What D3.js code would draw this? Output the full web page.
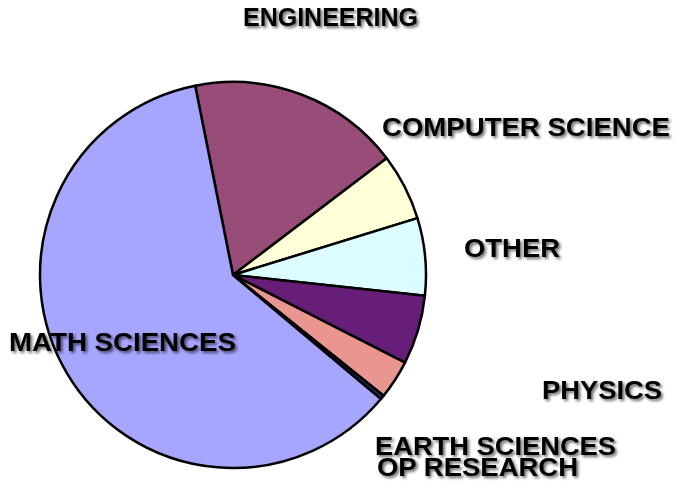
<!DOCTYPE html>
<html>
<head>
<meta charset="utf-8">
<script src="https://cdn.jsdelivr.net/npm/d3@7"></script>
<style>
html,body{margin:0;padding:0;background:#fff;}
svg{display:block;}
</style>
</head>
<body>
<svg id="chart" width="677" height="482"></svg>
<script>
const categories = ["ENGINEERING","COMPUTER SCIENCE","OTHER","PHYSICS","EARTH SCIENCES","OP RESEARCH","MATH SCIENCES"];
const values = [17.8, 5.58, 6.47, 5.78, 3.26, 0.35, 60.75];
const colors = ["#984c78","#ffffd8","#dcfdff","#661e78","#e8968f","#22306a","#a6a6ff"];
// label layout: anchor position and rendered width
const labelPos = [[243,26],[382,136],[464,257],[542,399],[375,455],[377,476],[9,351]];
const labelWidth = [175,288,96,120,241,201,227];

const svg = d3.select("#chart");
const cx = 233, cy = 275, R = 193;

const defs = svg.append("defs");
const f = defs.append("filter").attr("id","sh").attr("x","-10%").attr("y","-30%").attr("width","120%").attr("height","160%");
f.append("feGaussianBlur").attr("in","SourceAlpha").attr("stdDeviation",1.6).attr("result","b");
f.append("feOffset").attr("in","b").attr("dx",1.5).attr("dy",1.5).attr("result","o");
f.append("feComponentTransfer").attr("in","o").attr("result","o2")
  .append("feFuncA").attr("type","linear").attr("slope",0.6);
const m = f.append("feMerge");
m.append("feMergeNode").attr("in","o2");
m.append("feMergeNode").attr("in","SourceGraphic");

const data = categories.map((c,i)=>({name:c, value:values[i], color:colors[i]}));
const start = -11.3 * Math.PI/180;
const pie = d3.pie().value(d=>d.value).sort(null).startAngle(start).endAngle(start + 2*Math.PI);
const arc = d3.arc().innerRadius(0).outerRadius(R);

const g = svg.append("g").attr("transform",`translate(${cx},${cy})`);
g.selectAll("path").data(pie(data)).join("path")
  .attr("d",arc)
  .attr("fill",d=>d.data.color)
  .attr("stroke","#000")
  .attr("stroke-width",2.5)
  .attr("stroke-linejoin","round");

svg.append("g").selectAll("text").data(data).join("text")
  .attr("x",(d,i)=>labelPos[i][0])
  .attr("y",(d,i)=>labelPos[i][1])
  .attr("textLength",(d,i)=>labelWidth[i])
  .attr("lengthAdjust","spacingAndGlyphs")
  .attr("font-family","'Liberation Sans', Arial, sans-serif")
  .attr("font-weight","bold")
  .attr("font-size",25)
  .attr("fill","#000")
  .attr("filter","url(#sh)")
  .text(d=>d.name);
</script>
</body>
</html>
